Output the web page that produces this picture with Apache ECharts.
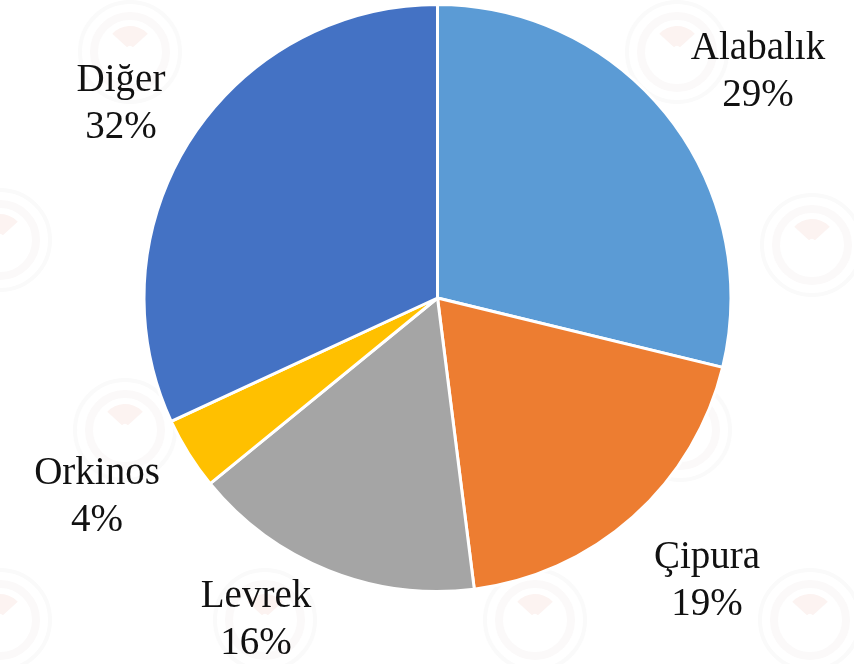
<!DOCTYPE html>
<html>
<head>
<meta charset="utf-8">
<style>html,body{margin:0;padding:0;background:#fff}#main{width:854px;height:664px}</style>
<script src="https://cdn.jsdelivr.net/npm/echarts@6/dist/echarts.min.js"></script>
</head>
<body>
<div id="main"></div>
<script>
const categories = ['Alabalık', 'Çipura', 'Levrek', 'Orkinos', 'Diğer'];
const shares = [28.8, 19.2, 16.1, 4, 31.9];
const colors = ['#5b9bd5', '#ed7d31', '#a5a5a5', '#ffc000', '#4472c4'];
const labelSpots = [[758, 72], [707, 581], [256, 620], [97, 497], [121, 104]];
const sealSpots = [[130, 52], [677, 52], [812, 245], [0, 240], [125, 430], [680, 430], [0, 620], [265, 620], [535, 620], [810, 620]];

const seals = [];
sealSpots.forEach(function (s) {
    seals.push({ type: 'circle', shape: { cx: s[0], cy: s[1], r: 50 }, style: { fill: 'none', stroke: '#fafafa', lineWidth: 4 }, z: 0, silent: true });
    seals.push({ type: 'circle', shape: { cx: s[0], cy: s[1], r: 36 }, style: { fill: 'none', stroke: '#fbf9f9', lineWidth: 8 }, z: 0, silent: true });
    seals.push({ type: 'sector', shape: { cx: s[0], cy: s[1] - 2, r: 24, r0: 4, startAngle: -2.4, endAngle: -0.74 }, style: { fill: '#fcf3f1' }, z: 0, silent: true });
});

let myChart = echarts.init(document.getElementById('main'));
myChart.setOption({
    animation: false,
    backgroundColor: '#fff',
    graphic: seals,
    series: [{
        type: 'pie',
        z: 2,
        center: [437.5, 298],
        radius: [0, 293.5],
        startAngle: 90,
        clockwise: true,
        avoidLabelOverlap: false,
        data: categories.map(function (name, i) {
            return { name: name, value: shares[i], itemStyle: { color: colors[i] } };
        }),
        itemStyle: { borderColor: '#fff', borderWidth: 3 },
        label: {
            show: true,
            position: 'outside',
            formatter: '{b}\n{d}%',
            fontFamily: '"Liberation Serif", serif',
            fontSize: 39,
            lineHeight: 47,
            color: '#111',
            align: 'center'
        },
        labelLine: { show: false },
        percentPrecision: 0,
        labelLayout: function (p) {
            return { x: labelSpots[p.dataIndex][0], y: labelSpots[p.dataIndex][1], align: 'center', verticalAlign: 'middle' };
        }
    }]
});
</script>
</body>
</html>
